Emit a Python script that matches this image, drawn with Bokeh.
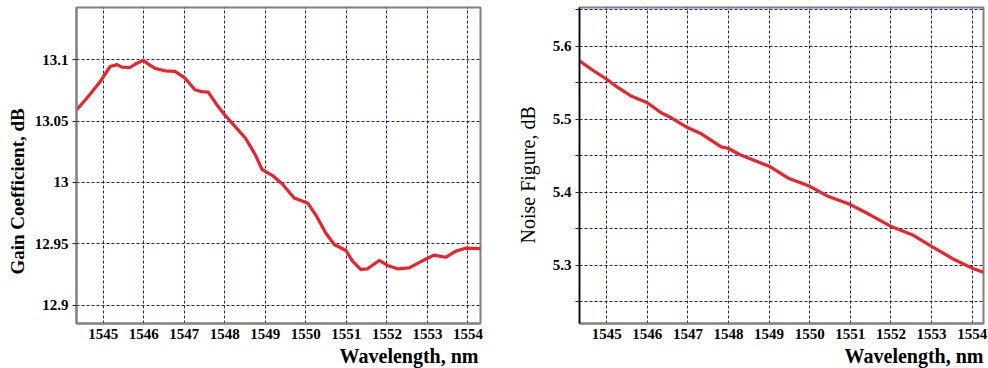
from bokeh.plotting import figure
from bokeh.layouts import row
from bokeh.models import FixedTicker, Range1d, Title
from bokeh.embed import file_html
from bokeh.resources import INLINE

# ---- data ----
wl_gain = [1544.34, 1544.63, 1544.92, 1545.17, 1545.34, 1545.46, 1545.66, 1545.82, 1545.99,
           1546.11, 1546.28, 1546.52, 1546.77, 1547.02, 1547.26, 1547.43, 1547.59, 1547.80,
           1548.00, 1548.25, 1548.51, 1548.75, 1548.92, 1549.17, 1549.42, 1549.71, 1550.04,
           1550.24, 1550.49, 1550.70, 1550.99, 1551.15, 1551.36, 1551.52, 1551.81, 1552.02,
           1552.26, 1552.55, 1552.83, 1553.16, 1553.45, 1553.70, 1553.94, 1554.31]
gain_db = [13.059, 13.070, 13.082, 13.0945, 13.096, 13.094, 13.0937, 13.097, 13.0995,
           13.0965, 13.093, 13.091, 13.0905, 13.085, 13.0756, 13.074, 13.0736, 13.0634,
           13.055, 13.0457, 13.036, 13.0227, 13.0105, 13.0058, 12.9987, 12.9873, 12.9833,
           12.9738, 12.9588, 12.9494, 12.9445, 12.9358, 12.929, 12.9296, 12.9364, 12.9323,
           12.9296, 12.9304, 12.9353, 12.9407, 12.939, 12.944, 12.9464, 12.9461]

wl_nf = [1544.33, 1544.62, 1545.00, 1545.28, 1545.60, 1546.00, 1546.34, 1546.59, 1547.00,
         1547.33, 1547.82, 1548.00, 1548.27, 1548.64, 1549.00, 1549.46, 1550.00, 1550.45,
         1551.00, 1551.45, 1552.00, 1552.52, 1553.00, 1553.57, 1554.00, 1554.28]
nf_db = [5.5798, 5.5684, 5.5547, 5.5431, 5.5317, 5.5225, 5.5088, 5.5019, 5.4882,
         5.4799, 5.4621, 5.4598, 5.4516, 5.4434, 5.4355, 5.4195, 5.408, 5.3943,
         5.3829, 5.370, 5.3531, 5.3417, 5.3256, 5.3073, 5.2958, 5.2903]

x_ticks = [1545, 1546, 1547, 1548, 1549, 1550, 1551, 1552, 1553, 1554]
gain_ticks = [12.9, 12.95, 13.0, 13.05, 13.1]
gain_tick_labels = ["12.9", "12.95", "13", "13.05", "13.1"]
nf_ticks = [5.3, 5.4, 5.5, 5.6]
nf_tick_labels = ["5.3", "5.4", "5.5", "5.6"]
nf_minor_ticks = [5.25, 5.35, 5.45, 5.55, 5.65]

SERIF = "Liberation Serif"
GRID = "#1c1ca0"
RED = "#ee2229"


def base_fig(xr, yr, left, top, bottom, right):
    p = figure(width=494, height=368, output_backend="svg", toolbar_location=None,
               x_range=Range1d(*xr), y_range=Range1d(*yr),
               min_border_left=left, min_border_right=right,
               min_border_top=top, min_border_bottom=bottom,
               frame_width=404, frame_height=316)
    p.background_fill_color = "white"
    p.border_fill_color = "white"
    p.outline_line_color = "#808080"
    p.outline_line_width = 2
    for g in (p.xgrid[0], p.ygrid[0]):
        g.grid_line_color = GRID
        g.grid_line_dash = "3 2"
        g.grid_line_width = 1
    p.xaxis.ticker = FixedTicker(ticks=x_ticks)
    p.xaxis.major_label_overrides = {t: str(t) for t in x_ticks}
    p.axis.major_label_text_font = SERIF
    p.axis.major_label_text_font_style = "bold"
    p.axis.major_label_text_font_size = "15px"
    p.axis.major_label_text_color = "black"
    p.xaxis.major_tick_out = 0
    p.xaxis.major_tick_in = 0
    p.xaxis.minor_tick_out = 0
    p.xaxis.minor_tick_in = 0
    p.xaxis.major_label_standoff = 5
    p.xaxis.axis_line_color = "#808080"
    p.xaxis.axis_line_width = 2
    p.yaxis.major_tick_in = 0
    p.yaxis.major_tick_out = 4
    p.yaxis.major_tick_line_color = "#222222"
    p.yaxis.major_label_standoff = 4
    return p


def add_titles(p, ylabel, ybold, ysize, yoffset, ystandoff, xoffset):
    p.add_layout(Title(text="Wavelength, nm", align="right", text_font=SERIF,
                       text_font_style="bold", text_font_size="20px",
                       text_color="black", standoff=2, offset=xoffset), "below")
    p.add_layout(Title(text=ylabel, align="left", text_font=SERIF,
                       text_font_style="bold" if ybold else "normal",
                       text_font_size=ysize, text_color="black",
                       offset=yoffset, standoff=ystandoff), "left")


# ---- left: gain ----
p1 = base_fig((1544.34, 1554.31), (12.885, 13.1426), left=75, top=6, bottom=46, right=15)
p1.yaxis.ticker = FixedTicker(ticks=gain_ticks)
p1.yaxis.major_label_overrides = dict(zip(gain_ticks, gain_tick_labels))
p1.yaxis.minor_tick_out = 0
p1.yaxis.minor_tick_in = 0
p1.yaxis.axis_line_color = "#808080"
p1.yaxis.axis_line_width = 2
p1.line(wl_gain, gain_db, line_color=RED, line_width=3.2, line_join="round")
add_titles(p1, "Gain Coefficient, dB", True, "19px", 49, 8, 2)

# ---- right: noise figure ----
p2 = base_fig((1544.33, 1554.28), (5.22, 5.653), left=84, top=7, bottom=45, right=6)
p2.yaxis.ticker = FixedTicker(ticks=nf_ticks, minor_ticks=nf_minor_ticks)
p2.yaxis.major_label_overrides = dict(zip(nf_ticks, nf_tick_labels))
p2.yaxis.minor_tick_out = 4
p2.yaxis.minor_tick_in = 0
p2.yaxis.minor_tick_line_color = "#222222"
p2.yaxis.axis_line_color = "black"
p2.yaxis.axis_line_width = 1.5
p2.ygrid.minor_grid_line_color = GRID
p2.ygrid.minor_grid_line_dash = "3 2"
p2.ygrid.minor_grid_line_width = 1
p2.line(wl_nf, nf_db, line_color=RED, line_width=3.2, line_join="round")
add_titles(p2, "Noise Figure, dB", False, "20px", 80, 21, 0)

layout = row(p1, p2)
open("out.html", "w").write(file_html(layout, INLINE))
